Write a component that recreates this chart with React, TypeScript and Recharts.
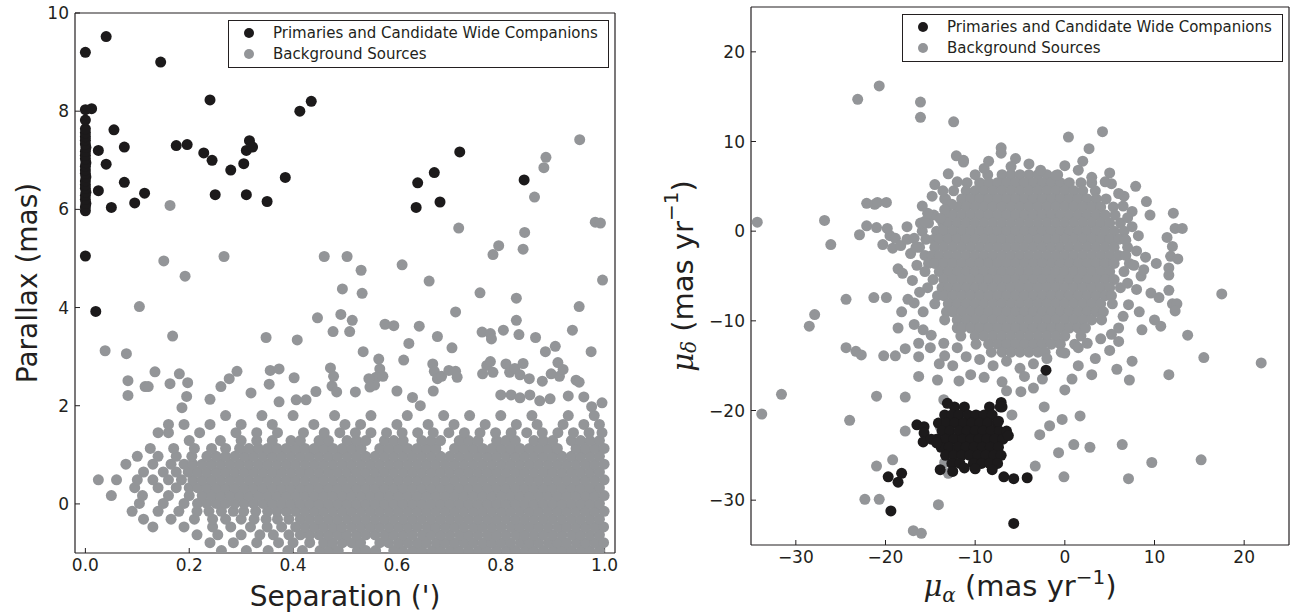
import * as React from "react";
import { ScatterChart, Scatter, XAxis, YAxis, Legend } from "recharts";

// ── Data ────────────────────────────────────────────────────────────────────
type Pair = [number, number];
type Row = [number, number[]]; // [y, xs]

const LEGEND_LABELS = ["Primaries and Candidate Wide Companions", "Background Sources"];

// left panel: separation (') vs parallax (mas)
const sepTicks = [0, 0.2, 0.4, 0.6, 0.8, 1.0];
const plxTicks = [0, 2, 4, 6, 8, 10];

const leftCompanions: Pair[] = [
  [0, 9.2], [0.04, 9.52], [0.145, 9.0], [0.24, 8.23], [0.413, 8.0], [0.435, 8.2], [0.012, 8.05], [0, 8.03],
  [0.055, 7.62], [0.025, 7.2], [0.075, 7.27], [0.04, 6.92], [0.175, 7.3], [0.196, 7.32], [0.228, 7.15],
  [0.244, 7.0], [0.28, 6.8], [0.305, 6.93], [0.316, 7.4], [0.31, 7.2], [0.322, 7.27], [0.025, 6.38],
  [0.075, 6.55], [0.114, 6.33], [0.095, 6.13], [0.05, 6.04], [0.25, 6.3], [0.31, 6.3], [0.35, 6.16],
  [0.385, 6.65], [0, 5.05], [0.02, 3.92], [0.637, 6.04], [0.64, 6.54], [0.672, 6.75], [0.683, 6.15],
  [0.721, 7.17], [0.845, 6.6],
];

const leftPrimaryColumn: Pair[] = [
  [0, 5.97], [0, 6.05], [0.001, 6.12], [0, 6.2], [0, 6.28], [0.001, 6.35], [0, 6.43], [0, 6.5], [0, 6.58],
  [0.001, 6.66], [0, 6.73], [0, 6.8], [0, 6.88], [0.001, 6.95], [0, 7.03], [0, 7.1], [0, 7.18], [0.001, 7.26],
  [0, 7.33], [0, 7.41], [0, 7.48], [0, 7.56], [0, 7.64], [0, 7.82],
];

const leftBackgroundSparse: Pair[] = [
  [0.163, 6.08], [0.151, 4.95], [0.267, 5.04], [0.192, 4.64], [0.104, 4.02], [0.447, 3.79], [0.168, 3.42],
  [0.348, 3.39], [0.408, 3.34], [0.038, 3.12], [0.079, 3.06], [0.082, 2.51], [0.082, 2.21], [0.134, 2.69],
  [0.115, 2.39], [0.121, 2.39], [0.163, 2.45], [0.181, 2.65], [0.197, 2.47], [0.195, 2.19], [0.186, 1.96],
  [0.24, 2.13], [0.261, 2.39], [0.277, 2.55], [0.292, 2.7], [0.319, 2.26], [0.356, 2.72], [0.373, 2.75],
  [0.354, 2.44], [0.402, 2.57], [0.406, 2.12], [0.425, 2.12], [0.444, 2.29], [0.373, 2.08],
  [0.952, 7.42], [0.887, 7.06], [0.883, 6.85], [0.865, 6.25], [0.982, 5.74], [0.992, 5.72], [0.719, 5.62],
  [0.846, 5.53], [0.796, 5.26], [0.785, 5.08], [0.843, 5.19], [0.46, 5.04], [0.504, 5.04], [0.531, 4.76],
  [0.61, 4.87], [0.996, 4.56], [0.662, 4.54], [0.495, 4.38], [0.533, 4.29], [0.76, 4.3], [0.83, 4.19],
  [0.713, 3.91], [0.951, 4.02], [0.492, 3.86], [0.514, 3.74], [0.477, 3.51], [0.509, 3.51], [0.577, 3.66],
  [0.594, 3.63], [0.643, 3.62], [0.678, 3.41], [0.764, 3.5], [0.78, 3.47], [0.782, 3.36], [0.805, 3.54],
  [0.83, 3.74], [0.835, 3.45], [0.867, 3.39], [0.938, 3.54], [0.905, 3.21], [0.886, 3.1], [0.974, 3.1],
  [0.706, 3.18], [0.623, 3.27], [0.535, 3.1], [0.613, 2.93], [0.472, 2.77],
  [0.565, 2.95], [0.567, 2.75], [0.56, 2.58], [0.557, 2.42], [0.573, 2.6], [0.546, 2.55], [0.548, 2.38],
  [0.669, 2.85], [0.672, 2.7], [0.678, 2.55], [0.686, 2.6], [0.7, 2.72], [0.713, 2.7], [0.716, 2.58],
  [0.765, 2.65], [0.773, 2.82], [0.78, 2.9], [0.785, 2.68], [0.81, 2.85], [0.817, 2.68], [0.827, 2.76],
  [0.843, 2.86], [0.855, 2.55], [0.837, 2.63], [0.88, 2.5], [0.897, 2.65], [0.913, 2.6], [0.92, 2.74],
  [0.91, 2.88], [0.945, 2.52], [0.951, 2.48], [0.475, 2.4], [0.484, 2.28], [0.478, 2.6], [0.52, 2.28],
  [0.6, 2.3], [0.67, 2.3], [0.63, 2.17], [0.645, 2.0], [0.8, 2.22], [0.82, 2.22], [0.837, 2.16],
  [0.856, 2.22], [0.875, 2.1], [0.895, 2.14], [0.93, 2.2], [0.96, 2.18], [0.995, 2.06], [0.975, 1.98],
];

// the crowded band of background sources, row by row (parallax, separations)
const leftBackgroundBand: Row[] = [
  [-0.95, [.262, .31, .352, .39, .418, .452, .47, .487, .524, .54, .559, .594, .611, .631, .648, .668, .684, .703, .719, .738, .757, .773, .792, .811, .828, .847, .863, .882, .901, .918, .936, .955, .971, .99]],
  [-0.79, [.24, .285, .33, .372, .4, .432, .459, .476, .495, .513, .53, .567, .584, .603, .621, .64, .657, .676, .693, .711, .729, .747, .766, .783, .801, .819, .838, .855, .873, .892, .909, .927, .946, .963, .981, .998]],
  [-0.63, [.215, .255, .3, .336, .362, .392, .414, .432, .45, .468, .486, .503, .522, .54, .558, .577, .594, .612, .63, .649, .666, .684, .702, .721, .738, .756, .775, .792, .81, .829, .846, .864, .882, .9, .918, .937, .954, .972, .99]],
  [-0.47, [.13, .19, .245, .28, .318, .35, .378, .405, .423, .441, .459, .477, .494, .513, .531, .549, .567, .585, .603, .621, .639, .658, .675, .693, .711, .729, .748, .765, .783, .801, .82, .837, .855, .873, .891, .91, .927, .945, .963, .981, .998]],
  [-0.31, [.112, .165, .21, .245, .27, .3, .325, .348, .37, .392, .414, .432, .45, .468, .486, .504, .522, .54, .558, .576, .594, .612, .63, .648, .666, .684, .702, .72, .738, .756, .774, .792, .81, .828, .846, .864, .882, .9, .918, .936, .954, .972, .99]],
  [-0.15, [.09, .14, .18, .215, .238, .262, .285, .305, .328, .351, .369, .387, .405, .423, .441, .459, .477, .495, .513, .531, .549, .567, .585, .603, .621, .639, .657, .675, .693, .711, .729, .747, .765, .783, .801, .819, .837, .855, .873, .891, .909, .927, .945, .963, .981, .999]],
  [0.01, [.104, .15, .19, .216, .234, .252, .27, .288, .306, .324, .342, .36, .378, .396, .414, .432, .45, .468, .486, .504, .522, .54, .558, .576, .594, .612, .63, .648, .666, .684, .702, .72, .738, .756, .774, .792, .81, .828, .846, .864, .882, .9, .918, .936, .954, .972, .99]],
  [0.17, [.05, .11, .16, .2, .225, .243, .261, .279, .297, .315, .333, .351, .369, .387, .405, .423, .441, .459, .477, .495, .513, .531, .549, .567, .585, .603, .621, .639, .657, .675, .693, .711, .729, .747, .765, .783, .801, .819, .837, .855, .873, .891, .909, .927, .945, .963, .981, .999]],
  [0.33, [.095, .14, .175, .2, .216, .234, .252, .27, .288, .306, .324, .342, .36, .378, .396, .414, .432, .45, .468, .486, .504, .522, .54, .558, .576, .594, .612, .63, .648, .666, .684, .702, .72, .738, .756, .774, .792, .81, .828, .846, .864, .882, .9, .918, .936, .954, .972, .99]],
  [0.49, [.025, .06, .1, .13, .16, .185, .207, .225, .243, .261, .279, .297, .315, .333, .351, .369, .387, .405, .423, .441, .459, .477, .495, .513, .531, .549, .567, .585, .603, .621, .639, .657, .675, .693, .711, .729, .747, .765, .783, .801, .819, .837, .855, .873, .891, .909, .927, .945, .963, .981, .999]],
  [0.65, [.112, .15, .175, .198, .216, .234, .252, .27, .288, .306, .324, .342, .36, .378, .396, .414, .432, .45, .468, .486, .504, .522, .54, .558, .576, .594, .612, .63, .648, .666, .684, .702, .72, .738, .756, .774, .792, .81, .828, .846, .864, .882, .9, .918, .936, .954, .972, .99]],
  [0.81, [.078, .13, .165, .19, .207, .225, .243, .261, .279, .297, .315, .333, .351, .369, .387, .405, .423, .441, .459, .477, .495, .513, .531, .549, .567, .585, .603, .621, .639, .657, .675, .693, .711, .729, .747, .765, .783, .801, .819, .837, .855, .873, .891, .909, .927, .945, .963, .981, .999]],
  [0.97, [.1, .14, .175, .205, .234, .252, .27, .288, .306, .324, .342, .36, .378, .396, .414, .432, .45, .468, .486, .504, .522, .54, .558, .576, .594, .612, .63, .648, .666, .684, .702, .72, .738, .756, .774, .792, .81, .828, .846, .864, .882, .9, .918, .936, .954, .972, .99]],
  [1.13, [.125, .17, .21, .243, .27, .297, .315, .333, .351, .369, .387, .405, .423, .441, .459, .477, .495, .513, .531, .567, .585, .603, .621, .639, .657, .675, .711, .729, .747, .765, .783, .801, .819, .837, .855, .873, .891, .909, .945, .963, .981, .999]],
  [1.29, [.2, .26, .3, .33, .36, .396, .414, .45, .468, .504, .522, .54, .576, .594, .612, .648, .666, .684, .72, .738, .756, .792, .81, .828, .864, .882, .9, .936, .954, .972, .99]],
  [1.45, [.14, .16, .22, .29, .33, .37, .42, .46, .49, .52, .55, .58, .61, .64, .67, .7, .73, .76, .79, .82, .85, .88, .91, .94, .97, .995]],
  [1.62, [.16, .19, .24, .3, .36, .44, .5, .53, .6, .66, .71, .77, .83, .87, .92, .96, .99]],
  [1.8, [.27, .34, .4, .48, .55, .62, .69, .74, .8, .86, .93, .98]],
];

// right panel: proper motions (mas/yr)
const pmTicks = [-30, -20, -10, 0, 10, 20];

const rightCompanionsCore: Row[] = [
  [-19.6, [-12.3, -11.2, -8.4, -7.2]],
  [-20.5, [-13.4, -12.6, -11.8, -10.8, -9.9, -9, -8.1]],
  [-21.4, [-14.1, -13.2, -12.3, -11.3, -10.4, -9.5, -8.6, -7.6]],
  [-22.3, [-13.7, -12.8, -11.8, -10.9, -10, -9.1, -8.2, -7.3, -6.5]],
  [-23.2, [-14.3, -13.3, -12.4, -11.4, -10.5, -9.6, -8.7, -7.8, -6.9]],
  [-24.1, [-13.8, -12.9, -11.9, -11, -10.1, -9.2, -8.3, -7.4]],
  [-25, [-13.3, -12.4, -11.5, -10.6, -9.7, -8.8, -7.9, -7.1]],
  [-25.9, [-12.6, -11.7, -10.2, -9.3, -8.4, -7.5]],
];

const rightCompanionsLoose: Pair[] = [
  [-2.1, -15.5], [-7.1, -19.1], [-7, -19.6], [-6.3, -22.8], [-7.4, -21.2], [-5.7, -27.6], [-4.2, -27.5],
  [-6.8, -27.4], [-8.1, -26.6], [-5.7, -32.6], [-10, -26.5], [-19.4, -31.2], [-19.7, -27.4], [-18.6, -28],
  [-18.2, -27], [-13.9, -26.6], [-16.5, -21.6], [-15.7, -21.8], [-15.7, -22.5], [-15.8, -23.5],
  [-14.9, -23.2], [-14.3, -23.6], [-13.1, -19.2], [-12.5, -26.8], [-11.2, -26.4],
];

// core of the field-star cloud, row by row (mu_delta, mu_alpha values)
const rightBackgroundCore: Row[] = [
  [6.3, [-8.6, -7, -6, -5, -4, -3, -2, -0.8]],
  [5.4, [-10.9, -9.5, -8.5, -7.5, -6.5, -5.5, -4.5, -3.5, -2.5, -1.5, -0.5, 0.5, 1.8, 3.0]],
  [4.5, [-12.4, -11, -10, -9, -8, -7, -6, -5, -4, -3, -2, -1, 0, 1, 2, 3.4]],
  [3.6, [-13.4, -11.5, -10.5, -9.5, -8.5, -7.5, -6.5, -5.5, -4.5, -3.5, -2.5, -1.5, -0.5, 0.5, 1.5, 2.5, 3.5, 4.6]],
  [2.7, [-13.1, -12, -11, -10, -9, -8, -7, -6, -5, -4, -3, -2, -1, 0, 1, 2, 3, 4, 5.4]],
  [1.8, [-14.6, -13.3, -12.5, -11.5, -10.5, -9.5, -8.5, -7.5, -6.5, -5.5, -4.5, -3.5, -2.5, -1.5, -0.5, 0.5, 1.5, 2.5, 3.5, 4.5, 5.6]],
  [0.9, [-15.2, -13.6, -13, -12, -11, -10, -9, -8, -7, -6, -5, -4, -3, -2, -1, 0, 1, 2, 3, 4, 5, 6.2]],
  [0, [-15.9, -14.3, -13.5, -12.5, -11.5, -10.5, -9.5, -8.5, -7.5, -6.5, -5.5, -4.5, -3.5, -2.5, -1.5, -0.5, 0.5, 1.5, 2.5, 3.5, 4.5, 5.5, 6.6]],
  [-0.9, [-15.5, -14.6, -14, -13, -12, -11, -10, -9, -8, -7, -6, -5, -4, -3, -2, -1, 0, 1, 2, 3, 4, 5, 6, 6.7]],
  [-1.8, [-16.2, -14.5, -13.5, -12.5, -11.5, -10.5, -9.5, -8.5, -7.5, -6.5, -5.5, -4.5, -3.5, -2.5, -1.5, -0.5, 0.5, 1.5, 2.5, 3.5, 4.5, 5.5, 7.0]],
  [-2.7, [-15.6, -14.8, -14, -13, -12, -11, -10, -9, -8, -7, -6, -5, -4, -3, -2, -1, 0, 1, 2, 3, 4, 5, 6, 6.8]],
  [-3.6, [-15.2, -14.5, -13.5, -12.5, -11.5, -10.5, -9.5, -8.5, -7.5, -6.5, -5.5, -4.5, -3.5, -2.5, -1.5, -0.5, 0.5, 1.5, 2.5, 3.5, 4.5, 5.5, 7.2]],
  [-4.5, [-15.6, -14, -13, -12, -11, -10, -9, -8, -7, -6, -5, -4, -3, -2, -1, 0, 1, 2, 3, 4, 5, 6.6]],
  [-5.4, [-14.7, -13.5, -12.5, -11.5, -10.5, -9.5, -8.5, -7.5, -6.5, -5.5, -4.5, -3.5, -2.5, -1.5, -0.5, 0.5, 1.5, 2.5, 3.5, 4.5, 5.5]],
  [-6.3, [-15.3, -13.7, -13, -12, -11, -10, -9, -8, -7, -6, -5, -4, -3, -2, -1, 0, 1, 2, 3, 4, 5, 6.2]],
  [-7.2, [-14.2, -13.5, -12.5, -11.5, -10.5, -9.5, -8.5, -7.5, -6.5, -5.5, -4.5, -3.5, -2.5, -1.5, -0.5, 0.5, 1.5, 2.5, 3.5, 4.5, 5.2]],
  [-8.1, [-14.5, -13, -12, -11, -10, -9, -8, -7, -6, -5, -4, -3, -2, -1, 0, 1, 2, 3, 4, 5.3]],
  [-9, [-13.2, -12.5, -11.5, -10.5, -9.5, -8.5, -7.5, -6.5, -5.5, -4.5, -3.5, -2.5, -1.5, -0.5, 0.5, 1.5, 2.5, 3.5, 4.3]],
  [-9.9, [-13.4, -12, -11, -10, -9, -8, -7, -6, -5, -4, -3, -2, -1, 0, 1, 2, 3, 4.1]],
  [-10.8, [-12, -11.5, -10.5, -9.5, -8.5, -7.5, -6.5, -5.5, -4.5, -3.5, -2.5, -1.5, -0.5, 0.5, 1.5, 2.3]],
  [-11.7, [-11.6, -10, -9, -8, -7, -6, -5, -4, -3, -2, -1, 0, 1.8]],
  [-12.6, [-9.9, -8.5, -7.5, -6.5, -5.5, -4.5, -3.5, -2.5, -1.5, -0.5, 1.1]],
  [-13.5, [-8.2, -7, -6, -5, -4, -3, -2.2, -0.4]],
];

const rightBackgroundLoose: Pair[] = [
  [0.4, 10.5], [4.2, 11.1], [2.7, 9.2], [-7.1, 9.3], [-7.1, 8.7], [-5.5, 8.1], [-11.3, 7.9], [-12.1, 8.4],
  [-11.3, 7.7], [-13, 6.4], [-2.7, 6.8], [-1, 6.2], [5.2, 5.3], [7.9, 5], [9.1, 3.3], [6.6, 3.9], [7.5, 2.2],
  [12.1, 2], [9.5, 1.8], [12.3, 0.3], [13.1, 0.3], [11.4, -0.7], [12, -1.7], [11.8, -2.8], [12.6, -3.1],
  [11.6, -4.1], [11.6, -4.9], [10.2, -3.6], [9.6, -6.9], [10.5, -7.4], [11.6, -6.6], [12, -8.1], [12.5, -8.1],
  [12.3, -8.9], [17.5, -7], [10, -9.9], [10.7, -10.6], [8.6, -11], [13.7, -11.6], [15.5, -14.1], [21.9, -14.7],
  [7.5, -14.5], [5.8, -15.4], [11.6, -16], [7.2, -16.6], [3.4, -14.2], [0.8, -16.5], [0, -17.7], [-3.5, -17.5],
  [-4.9, -17.9], [-6.5, -17.8], [1.7, -20.6], [-0.3, -21], [-1.7, -21.7], [-2.3, -19.6], [-2.8, -22.7],
  [1, -23.8], [2.8, -24.1], [6.4, -23.8], [-0.7, -24.7], [9.7, -25.8], [15.2, -25.5], [-3.3, -26.2],
  [-0.1, -27.4], [7.1, -27.6], [-5.9, -20.5],
  [-34.3, 1], [-33.8, -20.4], [-31.6, -18.2], [-28.5, -10.6], [-27.9, -9.3], [-26.8, 1.2], [-26.1, -1.5],
  [-24.4, -13], [-23.3, -13.4], [-22.7, -13.8], [-24.4, -7.6], [-24, -21.1], [-23.1, 14.7], [-22.9, -0.4],
  [-22.1, 0.6], [-22.3, -29.9], [-20.7, -29.9], [-22.1, 3.1], [-21.2, 3], [-20.9, 3.2], [-19.9, 3.2],
  [-21.3, -7.4], [-19.9, -7.4], [-21, -18.4], [-21, -26.2], [-20.7, 16.2], [-21, 0.4], [-20.3, -1.5],
  [-19.5, -0.5], [-19.8, 0.3], [-19.2, -1.9], [-18.9, -0.8], [-20.2, -13.9], [-18.9, -13.9], [-19.2, -25.5],
  [-18.6, -10.8], [-18.2, -9], [-18.3, -1.6], [-17.6, 0.5], [-17.6, -0.9], [-18.6, -4.2], [-18.1, -4.7],
  [-17.8, -13.1], [-17.8, -18.5], [-17.8, -22.3], [-16.9, -33.4], [-16, -33.7], [-16.8, -0.8], [-16.8, -8],
  [-16.8, -10.4], [-15.8, -11], [-16.3, -12.5], [-16.3, -14], [-16.1, 14.4], [-16.1, 12.7], [-16.1, 0.9],
  [-15.6, 1.1], [-16.3, -16.2], [-14.9, -11.6], [-15.3, 2], [-14.8, 3.9], [-14.2, -16.6], [-14.1, -30.5],
  [-13.4, -13.9], [-13.9, -21.8], [-13.4, -25.8], [-13, -27], [-12.4, 12.2], [-13.5, -18.8], [-13.3, 3.6],
  [-12.6, 3], [-13.4, 2.4], [-13.9, 1.4],
  [-17.2, -2.5], [-16.5, -3.8], [-17, -5.5], [-16.2, -6.8], [-15.8, -9], [-17.5, -7.6], [-16.6, -1.8],
  [-15.9, 2.8], [-14.5, 5.2], [-13.6, 4.5], [-12, -13], [-11, -14], [-9.5, -14.3], [-8, -15], [-6.5, -14.5],
  [-5, -15.3], [-3.5, -14.8], [-2, -14.2], [0, -13.6], [1.5, -13], [2.5, -12.5], [4, -12], [-13.5, -12.5],
  [-12.5, -15], [-10.5, -16], [-4.5, -16.2], [1.5, -15], [5, -13.3], [6, -12.3], [6.8, -1], [7.5, 0.5],
  [7, 1.5], [8, -2.2], [7.7, -3.8], [8.5, -5], [7, -5.8], [8, -6.5], [7.1, -8.2], [8.3, -9], [6.5, -9.5],
  [6, -10.8], [5.2, -11.5], [8.8, -4.3], [9, -2.9], [8.2, -0.5], [6.5, 2.8], [6, 4.2], [4.5, 5.5], [3, 6],
  [1.5, 6.8], [5, 6.5], [-9, 7], [-10, 6.3], [-12, 5.5], [0, 7.3], [-4, 7.5], [-6, 7.2], [2, 7.8],
  [-8.5, 7.8], [-15, -13], [-14, -14.8], [-11.8, -16.7], [-9, -16.3], [-2.5, -16.5], [3, -16], [-7, -16.8],
];

// ── Styling ─────────────────────────────────────────────────────────────────
const INK = "#231f20";
const BLACK = "#1c1a1b";
const GRAY = "#939598";
const FONT = "'DejaVu Sans', sans-serif";
const MATH = "'DejaVu Serif', serif";
const DOT_R = 5.5;
const TICK = { fontSize: 17, fill: INK, fontFamily: FONT } as const;
const AXIS_LINE = { stroke: INK, strokeWidth: 1.2 } as const;
const TICK_LINE = { stroke: INK, strokeWidth: 1 } as const;

const fromPairs = (p: Pair[]) => p.map(([x, y]) => ({ x, y }));
const fromRows = (rows: Row[]) => rows.flatMap(([y, xs]) => xs.map((x) => ({ x, y })));
const minus = (v: number) => (v < 0 ? `\u2212${Math.abs(v)}` : String(v));

const dot = (fill: string) => (p: any) => <circle cx={p.cx} cy={p.cy} r={DOT_R} fill={fill} />;

function LegendBox() {
  const colors = [BLACK, GRAY];
  return (
    <div
      style={{
        width: 381, height: 48, boxSizing: "border-box", border: `1.3px solid ${INK}`,
        background: "#fff", fontFamily: FONT, fontSize: 15, color: INK, position: "relative",
      }}
    >
      {LEGEND_LABELS.map((label, i) => (
        <div key={label} style={{ position: "absolute", left: 0, top: i === 0 ? 1 : 22, height: 22, display: "flex", alignItems: "center" }}>
          <span style={{ display: "inline-block", width: 10, height: 10, borderRadius: 5, background: colors[i], marginLeft: 15 }} />
          <span style={{ marginLeft: 19, whiteSpace: "nowrap" }}>{label}</span>
        </div>
      ))}
    </div>
  );
}

// axis titles, placed from the axis viewBox Recharts hands to the label
function XTitle({ viewBox, kind }: any) {
  const cx = viewBox.x + viewBox.width / 2;
  if (kind === "sep") {
    return <text x={cx} y={viewBox.y + 53} textAnchor="middle" fontSize={28} fontFamily={FONT} fill={INK}>Separation (')</text>;
  }
  return (
    <text x={cx} y={viewBox.y + 51} textAnchor="middle" fontSize={29} fontFamily={FONT} fill={INK}>
      <tspan fontFamily={MATH} fontStyle="italic">μ</tspan>
      <tspan fontFamily={MATH} fontStyle="italic" fontSize={20} dy={6}>α</tspan>
      <tspan dy={-6}> (mas yr</tspan>
      <tspan fontSize={20} dy={-12}>−1</tspan>
      <tspan dy={12}>)</tspan>
    </text>
  );
}

function YTitle({ viewBox, kind }: any) {
  const cy = viewBox.y + viewBox.height / 2;
  const cx = viewBox.x + viewBox.width - (kind === "plx" ? 48 : 68);
  if (kind === "plx") {
    return (
      <text x={cx} y={cy} transform={`rotate(-90 ${cx} ${cy})`} textAnchor="middle" dominantBaseline="central" fontSize={28} fontFamily={FONT} fill={INK}>
        Parallax (mas)
      </text>
    );
  }
  return (
    <text x={cx} y={cy} transform={`rotate(-90 ${cx} ${cy})`} textAnchor="middle" dominantBaseline="central" fontSize={29} fontFamily={FONT} fill={INK}>
      <tspan fontFamily={MATH} fontStyle="italic">μ</tspan>
      <tspan fontFamily={MATH} fontStyle="italic" fontSize={20} dy={6}>δ</tspan>
      <tspan dy={-6}> (mas yr</tspan>
      <tspan fontSize={20} dy={-12}>−1</tspan>
      <tspan dy={12}>)</tspan>
    </text>
  );
}

interface PanelProps {
  left: number;
  width: number;
  margin: { top: number; right: number; bottom: number; left: number };
  xDomain: [number, number];
  yDomain: [number, number];
  xTicks: number[];
  yTicks: number[];
  fmtX: (v: number) => string;
  fmtY: (v: number) => string;
  companions: { x: number; y: number }[];
  background: { x: number; y: number }[];
  kindX: string;
  kindY: string;
  legendAt: { left: number; top: number };
}

function Panel(p: PanelProps) {
  return (
    <div style={{ position: "absolute", left: p.left, top: 0 }}>
      <ScatterChart width={p.width} height={614} margin={p.margin}>
        <XAxis
          type="number" dataKey="x" domain={p.xDomain} ticks={p.xTicks} allowDataOverflow interval={0}
          height={1} tickSize={-5} tickMargin={11} tickFormatter={p.fmtX} tick={TICK}
          axisLine={AXIS_LINE} tickLine={TICK_LINE} label={<XTitle kind={p.kindX} />}
        />
        <XAxis
          xAxisId="top" orientation="top" type="number" domain={p.xDomain} ticks={p.xTicks} allowDataOverflow
          interval={0} height={1} tickSize={-5} tick={false} axisLine={AXIS_LINE} tickLine={TICK_LINE}
        />
        <YAxis
          type="number" dataKey="y" domain={p.yDomain} ticks={p.yTicks} allowDataOverflow interval={0}
          width={1} tickSize={-5} tickMargin={11} tickFormatter={p.fmtY} tick={TICK}
          axisLine={AXIS_LINE} tickLine={TICK_LINE} label={<YTitle kind={p.kindY} />}
        />
        <YAxis
          yAxisId="right" orientation="right" type="number" domain={p.yDomain} ticks={p.yTicks} allowDataOverflow
          interval={0} width={1} tickSize={-5} tick={false} axisLine={AXIS_LINE} tickLine={TICK_LINE}
        />
        <Legend
          layout="vertical" align="center" verticalAlign="middle"
          wrapperStyle={{ left: p.legendAt.left, top: p.legendAt.top, width: 381, height: 48 }}
          content={() => <LegendBox />}
        />
        <Scatter name="Background Sources" data={p.background} fill={GRAY} shape={dot(GRAY)} isAnimationActive={false} />
        <Scatter name="Primaries and Candidate Wide Companions" data={p.companions} fill={BLACK} shape={dot(BLACK)} isAnimationActive={false} />
      </ScatterChart>
    </div>
  );
}

export default function App() {
  const leftBg = [...fromRows(leftBackgroundBand), ...fromPairs(leftBackgroundSparse)];
  const leftComp = [...fromPairs(leftPrimaryColumn), ...fromPairs(leftCompanions)];
  const rightBg = [...fromRows(rightBackgroundCore), ...fromPairs(rightBackgroundLoose)];
  const rightComp = [...fromRows(rightCompanionsCore), ...fromPairs(rightCompanionsLoose)];
  return (
    <div style={{ position: "absolute", left: 0, top: 0, width: 1294, height: 614, background: "#fff" }}>
      <Panel
        left={0} width={640} margin={{ top: 12, right: 24, bottom: 60, left: 74 }}
        xDomain={[-0.02, 1.02]} yDomain={[-1, 10]} xTicks={sepTicks} yTicks={plxTicks}
        fmtX={(v) => v.toFixed(1)} fmtY={(v) => String(v)}
        companions={leftComp} background={leftBg} kindX="sep" kindY="plx"
        legendAt={{ left: 228, top: 20 }}
      />
      <Panel
        left={660} width={634} margin={{ top: 6, right: 4, bottom: 68, left: 90 }}
        xDomain={[-35, 25]} yDomain={[-35, 25]} xTicks={pmTicks} yTicks={pmTicks}
        fmtX={minus} fmtY={minus}
        companions={rightComp} background={rightBg} kindX="pm" kindY="pm"
        legendAt={{ left: 242, top: 14 }}
      />
    </div>
  );
}
